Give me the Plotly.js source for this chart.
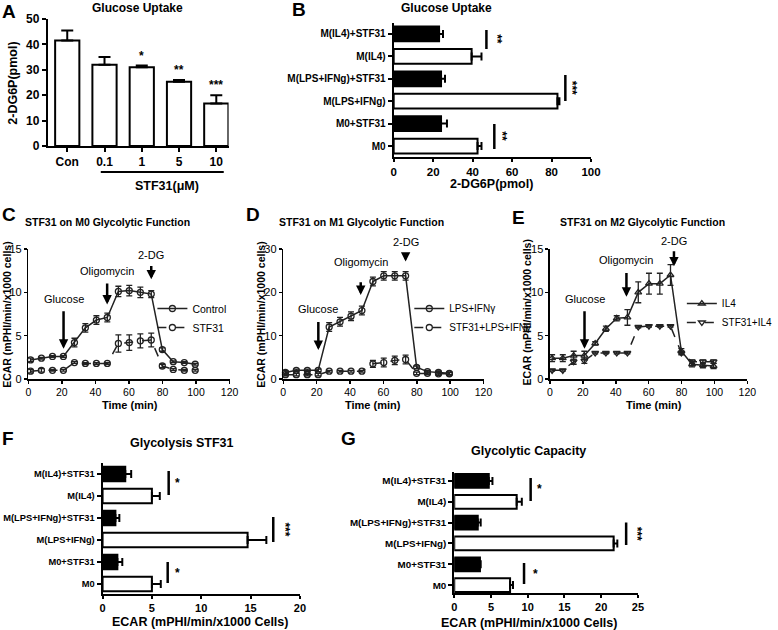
<!DOCTYPE html>
<html><head><meta charset="utf-8">
<script src="https://cdn.plot.ly/plotly-3.0.1.min.js"></script>
<style>html,body{margin:0;padding:0;background:#fff}#chart{width:778px;height:630px}</style>
</head><body><div id="chart"></div>
<script>
// ---------- DATA ----------
// Panel A
const aCategories = ['Con', '0.1', '1', '5', '10'];
const aValues = [41.5, 32.0, 31.0, 25.3, 16.7];
const aErrors = [4.0, 3.0, 0.7, 0.7, 3.3];
const aStars = ['', '', '*', '**', '***'];

// Shared group categories (B, F, G), top to bottom
const groupCategories = ['M(IL4)+STF31', 'M(IL4)', 'M(LPS+IFNg)+STF31', 'M(LPS+IFNg)', 'M0+STF31', 'M0'];
// Panel B
const bValues = [23.0, 39.5, 24.0, 83.0, 24.0, 42.5];
const bErrors = [2.0, 5.0, 2.0, 1.0, 3.0, 2.0];
const bStars = ['**', '***', '**'];
// Panel F
const fValues = [2.3, 5.0, 1.3, 14.7, 1.5, 5.0];
const fErrors = [0.6, 0.8, 0.4, 1.9, 0.5, 0.9];
const fStars = ['*', '***', '*'];
// Panel G
const gValues = [4.7, 8.5, 3.2, 21.7, 3.5, 7.6];
const gErrors = [0.5, 0.7, 0.4, 0.5, 0.1, 0.4];
const gStars = ['*', '***', '*'];

// Seahorse time points (min)
const times = [1.3, 7.8, 14.4, 20.9, 27.5, 34.0, 40.6, 47.1, 53.7, 60.2, 66.8, 73.3, 79.9, 86.4, 93.0, 99.5];
// Panel C
const cControl = [2.2, 2.4, 2.6, 2.6, 4.2, 5.9, 6.8, 7.1, 10.1, 10.2, 10.0, 9.8, 3.4, 2.0, 1.9, 1.7];
const cControlErr = [0.2, 0.1, 0.1, 0.1, 0.5, 0.5, 0.5, 0.5, 0.6, 0.6, 0.6, 0.4, 0.2, 0.1, 0.1, 0.1];
const cStf = [0.9, 1.0, 1.0, 1.0, 1.9, 1.8, 1.8, 1.8, 4.1, 4.2, 4.4, 4.5, 1.5, 1.1, 1.0, 1.0];
const cStfErr = [0.2, 0.2, 0.1, 0.1, 0.1, 0.1, 0.1, 0.1, 1.0, 0.9, 0.8, 0.8, 0.2, 0.1, 0.1, 0.1];
// Panel D
const dLps = [1.5, 2.0, 2.0, 2.0, 12.0, 13.2, 14.5, 15.8, 22.5, 23.8, 23.8, 23.8, 2.7, 1.7, 1.5, 1.3];
const dLpsErr = [0.4, 0.3, 0.3, 0.3, 1.0, 1.0, 1.0, 1.0, 1.0, 1.0, 1.0, 1.0, 0.3, 0.3, 0.3, 0.3];
const dStf = [1.0, 1.0, 1.0, 1.0, 1.8, 1.8, 1.8, 1.8, 3.5, 3.8, 4.3, 4.5, 1.3, 1.3, 1.2, 1.2];
const dStfErr = [0.3, 0.3, 0.3, 0.3, 0.2, 0.2, 0.2, 0.2, 0.8, 1.0, 1.0, 1.0, 0.3, 0.3, 0.3, 0.3];
// Panel E
const eIl4 = [2.4, 2.4, 2.7, 2.7, 4.1, 5.8, 7.0, 7.1, 10.0, 11.0, 11.0, 12.0, 3.2, 1.7, 1.6, 1.5];
const eIl4Err = [0.4, 0.4, 0.5, 0.5, 0.2, 0.3, 0.3, 0.9, 1.2, 1.2, 1.2, 1.2, 0.3, 0.3, 0.3, 0.3];
const eStf = [1.0, 1.0, 2.0, 2.1, 3.0, 3.0, 3.0, 3.0, 6.0, 6.1, 6.1, 6.1, 3.0, 2.0, 2.0, 2.0];
const eStfErr = [0.1, 0.1, 0.3, 0.3, 0.1, 0.1, 0.1, 0.1, 0.1, 0.1, 0.1, 0.1, 0.2, 0.2, 0.2, 0.2];

// Injection events
const injections = ['Glucose', 'Oligomycin', '2-DG'];

// ---------- HELPERS ----------
const W = 778, H = 630;
const FONT = 'Liberation Sans, Arial, Helvetica, sans-serif';
const px = v => v / W;
const py = v => 1 - v / H;
const zeros = arr => arr.map(() => 0);

function axis(extra, bold, size) {
  return Object.assign({
    showline: true, linecolor: '#000', linewidth: 2, ticks: 'outside', ticklen: 4, tickwidth: 2,
    tickcolor: '#000', showgrid: false, zeroline: false, fixedrange: true,
    tickfont: {family: FONT, size: size || 11, color: '#000', weight: bold ? 'bold' : 'normal'}
  }, extra);
}

function hbar(values, errors, n) {
  return {
    type: 'bar', orientation: 'h', y: groupCategories, x: values, xaxis: 'x' + n, yaxis: 'y' + n,
    width: 0.66, showlegend: false, hoverinfo: 'skip',
    marker: {color: groupCategories.map(c => c.endsWith('STF31') ? '#000' : '#fff'), line: {color: '#000', width: 2}},
    error_x: {type: 'data', symmetric: false, array: errors, arrayminus: zeros(errors), color: '#000', thickness: 2, width: 4}
  };
}

function series(y, err, name, n, symbol, dash, legend) {
  return {
    type: 'scatter', mode: 'lines+markers', x: times, y: y, name: name, xaxis: 'x' + n, yaxis: 'y' + n,
    legend: legend, cliponaxis: false, hoverinfo: 'skip',
    line: {color: '#222', width: 1.5, dash: dash},
    marker: {symbol: symbol, size: 6, color: '#222', line: {color: '#222', width: 1.3}},
    error_y: {type: 'data', array: err, color: '#222', thickness: 1.3, width: 3}
  };
}

const data = [
  {
    type: 'bar', x: aCategories, y: aValues, xaxis: 'x', yaxis: 'y', width: 0.65, showlegend: false, hoverinfo: 'skip',
    marker: {color: '#fff', line: {color: '#000', width: 2}},
    error_y: {type: 'data', symmetric: false, array: aErrors, arrayminus: zeros(aErrors), color: '#000', thickness: 2, width: 6}
  },
  hbar(bValues, bErrors, 2),
  series(cControl, cControlErr, 'Control', 3, 'circle-open', 'solid', 'legend'),
  series(cStf, cStfErr, 'STF31', 3, 'circle-open', 'dash', 'legend'),
  series(dLps, dLpsErr, 'LPS+IFNγ', 4, 'circle-open', 'solid', 'legend2'),
  series(dStf, dStfErr, 'STF31+LPS+IFNγ', 4, 'circle-open', 'dash', 'legend2'),
  series(eIl4, eIl4Err, 'IL4', 5, 'triangle-up-open', 'solid', 'legend3'),
  series(eStf, eStfErr, 'STF31+IL4', 5, 'triangle-down-open', 'dash', 'legend3'),
  hbar(fValues, fErrors, 6),
  hbar(gValues, gErrors, 7)
];

const annotations = [];
const shapes = [];
function txt(x, y, text, opts) {
  annotations.push(Object.assign({x: x, y: y, xref: 'paper', yref: 'paper', text: text, showarrow: false,
    xanchor: 'center', yanchor: 'middle', font: {family: FONT, size: 11, color: '#000'}}, opts || {}));
}
function bold(size) { return {family: FONT, size: size, color: '#000', weight: 'bold'}; }

// Panel letters
[['A', 9, 11], ['B', 306, 10], ['C', 9, 214], ['D', 259, 214], ['E', 531, 217], ['F', 8, 438], ['G', 357, 438]]
  .forEach(l => txt(px(l[1]), py(l[2]), l[0], {font: bold(19)}));
// Titles
txt(px(141), py(8), 'Glucose Uptake', {font: bold(12)});
txt(px(457), py(8), 'Glucose Uptake', {font: bold(12)});
txt(px(110), py(222), 'STF31 on M0 Glycolytic Function', {font: bold(10.5)});
txt(px(370), py(222), 'STF31 on M1 Glycolytic Function', {font: bold(10.5)});
txt(px(658), py(222), 'STF31 on M2 Glycolytic Function', {font: bold(10.5)});
txt(px(186), py(443), 'Glycolysis STF31', {font: bold(12.5)});
txt(px(541), py(451), 'Glycolytic Capacity', {font: bold(12.5)});
// Axis titles
txt(px(13), py(83), '2-DG6P(pmol)', {font: bold(12.5), textangle: -90});
txt(px(171), py(186), 'STF31(μM)', {font: bold(12.5)});
txt(px(503), py(184), '2-DG6P(pmol)', {font: bold(12.5)});
txt(px(7), py(315), 'ECAR (mPHI/min/x1000 cells)', {font: bold(10.5), textangle: -90});
txt(px(267), py(315), 'ECAR (mPHI/min/x1000 cells)', {font: bold(10.5), textangle: -90});
txt(px(539), py(313), 'ECAR (mPHI/min/x1000 cells)', {font: bold(10.5), textangle: -90});
txt(px(133), py(405), 'Time (min)', {font: bold(11)});
txt(px(382), py(405), 'Time (min)', {font: bold(11)});
txt(px(670), py(405), 'Time (min)', {font: bold(11)});
txt(px(205), py(622), 'ECAR (mPHI/min/x1000 Cells)', {font: bold(12.5)});
txt(px(542), py(623), 'ECAR (mPHI/min/x1000 Cells)', {font: bold(12.5)});

// Panel A stars (category index positions) and bracket
aCategories.forEach((c, i) => {
  if (aStars[i]) annotations.push({x: i, y: aValues[i] + aErrors[i] + 0.3, xref: 'x', yref: 'y', text: aStars[i],
    showarrow: false, xanchor: 'center', yanchor: 'bottom', font: bold(12)});
});
shapes.push({type: 'line', xref: 'x', yref: 'paper', x0: 0.9, x1: 4.2, y0: py(172), y1: py(172), line: {color: '#000', width: 2}});

// Significance brackets (horizontal-bar panels)
function sig(n, specs, stars) {
  specs.forEach((s, i) => {
    shapes.push({type: 'line', xref: 'x' + n, yref: 'y' + n, x0: s[0], x1: s[0], y0: s[1], y1: s[2], line: {color: '#000', width: 2.5}});
    annotations.push({x: s[3], y: (s[1] + s[2]) / 2, xref: 'x' + n, yref: 'y' + n, text: stars[i], showarrow: false,
      textangle: stars[i].length > 1 ? 90 : 0, xanchor: 'center', yanchor: 'middle', font: bold(12)});
  });
}
sig(2, [[47, -0.18, 0.67, 52], [87, 1.83, 2.99, 90.5], [51, 4.02, 5.13, 55]], bStars);
sig(6, [[6.7, -0.14, 0.95, 7.6], [17.3, 1.95, 3.09, 18.4], [6.6, 4.0, 4.95, 7.6]], fStars);
sig(7, [[10.4, -0.14, 0.96, 11.6], [23.4, 2.0, 3.08, 24.9], [9.5, 3.94, 4.95, 11.0]], gStars);

// Injection arrows: [time, headY, tailY, labelY] per injection, per panel
function arrows(n, specs, domainLabels) {
  specs.forEach((s, i) => {
    annotations.push({x: s[0], y: s[1], ax: s[0], ay: s[2], xref: 'x' + n, yref: 'y' + n, axref: 'x' + n, ayref: 'y' + n,
      text: '', showarrow: true, arrowhead: 2, arrowsize: 0.75, arrowwidth: 2.5, arrowcolor: '#000'});
    const ld = domainLabels && domainLabels[i];
    annotations.push({x: s[0], y: ld ? ld : s[3], xref: 'x' + n, yref: ld ? 'y' + n + ' domain' : 'y' + n,
      text: injections[i], showarrow: false, xanchor: 'center', yanchor: 'middle', font: {family: FONT, size: 11, color: '#000'}});
  });
}
arrows(3, [[21, 3.5, 8.0, 9.2], [47, 8.6, 11.2, 12.5], [73.3, 11.5, 13.2, 14.3]]);
arrows(4, [[21, 6.7, 13.5, 16.1], [46.4, 19.4, 22.7, 27.0], [73.3, 27.1, 28.8, 31.5]], [null, null, 1.05]);
arrows(5, [[21, 3.5, 8.0, 9.2], [46.5, 9.5, 12.4, 13.7], [75.4, 13.0, 14.9, 15.9]], [null, null, 1.06]);

const legendBase = {bgcolor: 'rgba(0,0,0,0)', xanchor: 'left', yanchor: 'top',
  itemwidth: 30, tracegroupgap: 0, itemclick: false, itemdoubleclick: false};
const legFont = s => ({family: FONT, size: s, color: '#000'});
const lineAx = {linewidth: 1.5, tickwidth: 1.5, ticklen: 3};

const layout = {
  width: W, height: H, margin: {l: 0, r: 0, t: 0, b: 0}, paper_bgcolor: '#fff', plot_bgcolor: 'rgba(0,0,0,0)',
  font: {family: FONT, color: '#000'}, showlegend: true,
  // A
  xaxis: axis({domain: [px(49), px(234)], anchor: 'y', type: 'category', range: [-0.52, 4.33]}, true, 12),
  yaxis: axis({domain: [py(146), py(19)], anchor: 'x', range: [0, 50], dtick: 10}, true, 12),
  // B
  xaxis2: axis({domain: [px(403), px(605)], anchor: 'y2', range: [0, 100], dtick: 20, ticklen: 3}, true, 11.5),
  yaxis2: axis({domain: [py(157), py(23)], anchor: 'x2', type: 'category', range: [5.49, -0.49]}, true, 10),
  // C
  xaxis3: axis(Object.assign({domain: [px(29), px(235)], anchor: 'y3', range: [0, 120], dtick: 20}, lineAx), false, 10.5),
  yaxis3: axis(Object.assign({domain: [py(379), py(249)], anchor: 'x3', range: [0, 15], dtick: 5}, lineAx), false, 11),
  // D
  xaxis4: axis(Object.assign({domain: [px(290), px(495)], anchor: 'y4', range: [0, 120], dtick: 20}, lineAx), false, 10.5),
  yaxis4: axis(Object.assign({domain: [py(379), py(249)], anchor: 'x4', range: [0, 30], dtick: 10}, lineAx), false, 11),
  // E
  xaxis5: axis(Object.assign({domain: [px(563), px(765)], anchor: 'y5', range: [0, 120], dtick: 20}, lineAx), false, 10.5),
  yaxis5: axis(Object.assign({domain: [py(379), py(249)], anchor: 'x5', range: [0, 15], dtick: 5}, lineAx), false, 11),
  // F
  xaxis6: axis({domain: [px(105), px(307)], anchor: 'y6', range: [0, 20], dtick: 5, ticklen: 3}, true, 11),
  yaxis6: axis({domain: [py(594), py(463)], anchor: 'x6', type: 'category', range: [5.45, -0.5]}, true, 9.3),
  // G
  xaxis7: axis({domain: [px(465), px(653)], anchor: 'y7', range: [0, 25], dtick: 5, ticklen: 3}, true, 11),
  yaxis7: axis({domain: [py(593), py(472)], anchor: 'x7', type: 'category', range: [5.38, -0.43]}, true, 9.8),
  legend: Object.assign({}, legendBase, {x: px(156), y: py(294), font: legFont(10.5)}),
  legend2: Object.assign({}, legendBase, {x: px(419), y: py(294), font: legFont(10)}),
  legend3: Object.assign({}, legendBase, {x: px(698), y: py(289), font: legFont(10)}),
  annotations: annotations,
  shapes: shapes
};

Plotly.newPlot('chart', data, layout, {staticPlot: true, displayModeBar: false});
</script>
</body></html>
